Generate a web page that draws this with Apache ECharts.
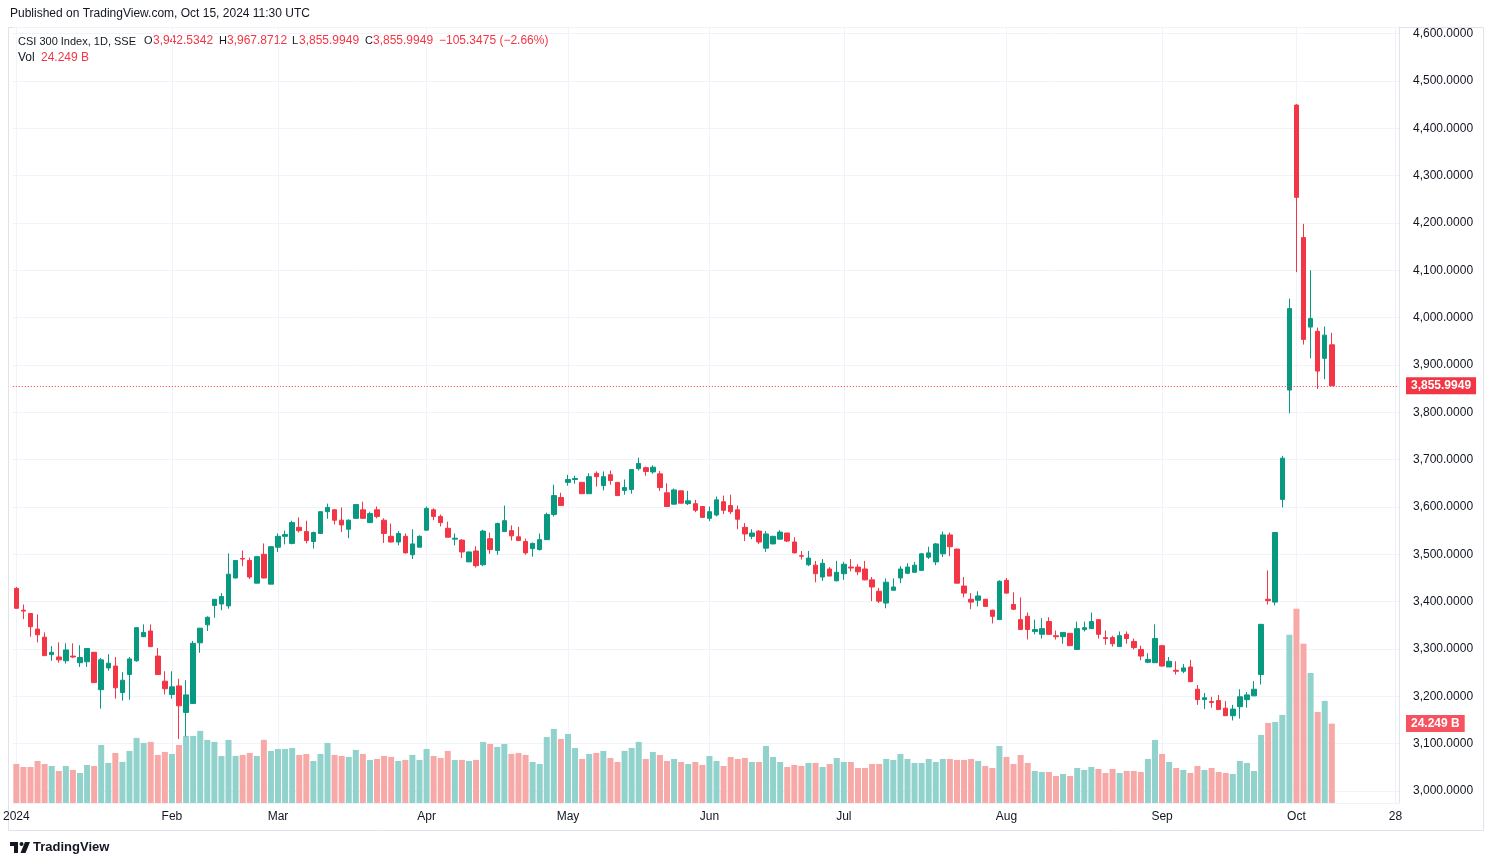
<!DOCTYPE html>
<html>
<head>
<meta charset="utf-8">
<title>CSI 300 Index, 1D, SSE</title>
<script src="https://cdn.jsdelivr.net/npm/echarts@6.0.0/dist/echarts.min.js"></script>
<style>
    html, body { margin: 0; padding: 0; background: #ffffff; }
    #main { width: 1493px; height: 866px; }
</style>
</head>
<body>
<div id="main"></div>
<script>
// 数据 — 每日 OHLC 与成交量(十亿)
const open = [
    3428, 3382, 3375, 3342, 3325, 3288, 3283, 3275, 3285, 3271,
    3273, 3293, 3214, 3260, 3264, 3208, 3246, 3275, 3326, 3338,
    3285, 3232, 3204, 3222, 3166, 3185, 3313, 3351, 3392, 3395,
    3391, 3450, 3491, 3487, 3439, 3500, 3437, 3515, 3538, 3523,
    3557, 3548, 3527, 3544, 3590, 3594, 3572, 3553, 3576, 3594,
    3567, 3594, 3572, 3538, 3526, 3538, 3499, 3515, 3551, 3594,
    3580, 3555, 3532, 3530, 3484, 3507, 3478, 3533, 3508, 3548,
    3550, 3537, 3527, 3512, 3510, 3531, 3584, 3620, 3652, 3658,
    3652, 3628, 3671, 3645, 3668, 3652, 3635, 3637, 3681, 3683,
    3674, 3670, 3630, 3606, 3634, 3607, 3607, 3601, 3576, 3583,
    3611, 3603, 3594, 3557, 3538, 3549, 3513, 3522, 3532, 3545,
    3526, 3497, 3478, 3477, 3452, 3469, 3444, 3459, 3473, 3473,
    3469, 3446, 3422, 3397, 3424, 3450, 3460, 3462, 3466, 3494,
    3484, 3501, 3541, 3511, 3433, 3405, 3403, 3405, 3382, 3362,
    3445, 3394, 3362, 3369, 3337, 3331, 3358, 3328, 3326, 3333,
    3299, 3341, 3343, 3362, 3324, 3324, 3305, 3331, 3316, 3299,
    3272, 3271, 3307, 3262, 3255, 3253, 3262, 3215, 3193, 3189,
    3191, 3175, 3159, 3178, 3193, 3201, 3246, 3405, 3399, 3616,
    3847, 4449, 4169, 3980, 3971, 3914, 3942.5342
];
const high = [
    3431, 3394, 3376, 3373, 3335, 3306, 3314, 3312, 3312, 3308,
    3301, 3294, 3281, 3289, 3283, 3251, 3283, 3346, 3352, 3352,
    3302, 3253, 3253, 3237, 3234, 3317, 3344, 3369, 3405, 3418,
    3502, 3488, 3508, 3493, 3496, 3523, 3517, 3544, 3550, 3571,
    3578, 3571, 3548, 3591, 3607, 3595, 3599, 3574, 3605, 3611,
    3590, 3601, 3576, 3565, 3549, 3544, 3553, 3540, 3601, 3597,
    3584, 3569, 3544, 3532, 3505, 3517, 3552, 3546, 3567, 3603,
    3561, 3558, 3533, 3525, 3544, 3588, 3647, 3630, 3668, 3666,
    3652, 3671, 3675, 3675, 3677, 3652, 3658, 3679, 3704, 3685,
    3688, 3676, 3650, 3639, 3635, 3634, 3615, 3601, 3601, 3622,
    3624, 3626, 3603, 3566, 3553, 3551, 3549, 3539, 3551, 3545,
    3536, 3507, 3507, 3486, 3490, 3473, 3486, 3484, 3490, 3479,
    3486, 3452, 3429, 3449, 3449, 3475, 3481, 3484, 3503, 3516,
    3524, 3548, 3546, 3512, 3452, 3418, 3422, 3406, 3383, 3445,
    3450, 3420, 3409, 3377, 3362, 3365, 3367, 3339, 3335, 3333,
    3358, 3358, 3377, 3363, 3339, 3328, 3337, 3337, 3322, 3307,
    3291, 3352, 3308, 3283, 3274, 3268, 3277, 3224, 3207, 3199,
    3203, 3190, 3182, 3215, 3209, 3232, 3353, 3466, 3547, 3708,
    4040, 4451, 4198, 4100, 3979, 3981, 3967.8712
];
const low = [
    3385, 3363, 3326, 3314, 3285, 3275, 3271, 3269, 3281, 3262,
    3262, 3228, 3174, 3254, 3195, 3191, 3193, 3273, 3325, 3304,
    3245, 3204, 3195, 3110, 3115, 3184, 3292, 3338, 3366, 3382,
    3385, 3449, 3475, 3448, 3439, 3449, 3437, 3505, 3521, 3521,
    3546, 3523, 3512, 3543, 3575, 3563, 3547, 3534, 3575, 3575,
    3567, 3576, 3524, 3525, 3519, 3502, 3490, 3515, 3550, 3572,
    3559, 3536, 3519, 3492, 3484, 3472, 3475, 3501, 3499, 3547,
    3529, 3528, 3499, 3495, 3508, 3530, 3580, 3602, 3645, 3649,
    3628, 3628, 3643, 3635, 3647, 3624, 3626, 3628, 3677, 3666,
    3670, 3634, 3601, 3605, 3607, 3604, 3589, 3578, 3570, 3580,
    3585, 3585, 3553, 3528, 3532, 3522, 3505, 3521, 3532, 3526,
    3502, 3489, 3475, 3441, 3444, 3454, 3443, 3446, 3464, 3456,
    3445, 3401, 3397, 3386, 3424, 3439, 3458, 3462, 3466, 3490,
    3477, 3494, 3496, 3439, 3409, 3384, 3390, 3389, 3354, 3362,
    3417, 3382, 3341, 3320, 3331, 3322, 3330, 3320, 3311, 3307,
    3299, 3337, 3343, 3322, 3309, 3305, 3305, 3311, 3299, 3276,
    3270, 3271, 3263, 3262, 3246, 3249, 3230, 3182, 3173, 3176,
    3172, 3159, 3149, 3153, 3176, 3201, 3225, 3394, 3392, 3599,
    3798, 4096, 3943, 3914, 3849, 3870, 3855.9949
];
const close = [
    3386, 3380, 3347, 3330, 3286, 3293, 3277, 3298, 3283, 3282,
    3301, 3229, 3277, 3270, 3218, 3234, 3279, 3345, 3335, 3305,
    3246, 3216, 3220, 3180, 3203, 3312, 3344, 3367, 3405, 3411,
    3458, 3487, 3490, 3452, 3495, 3450, 3516, 3538, 3542, 3567,
    3550, 3529, 3546, 3590, 3599, 3572, 3562, 3572, 3605, 3576,
    3586, 3580, 3544, 3526, 3544, 3503, 3522, 3538, 3597, 3580,
    3567, 3536, 3534, 3505, 3505, 3476, 3549, 3510, 3565, 3571,
    3539, 3529, 3503, 3523, 3531, 3584, 3624, 3603, 3658, 3660,
    3628, 3664, 3664, 3664, 3656, 3624, 3641, 3679, 3692, 3675,
    3684, 3641, 3601, 3636, 3608, 3613, 3593, 3578, 3590, 3615,
    3593, 3590, 3574, 3543, 3545, 3526, 3543, 3538, 3547, 3528,
    3503, 3496, 3492, 3459, 3481, 3454, 3462, 3479, 3471, 3463,
    3446, 3431, 3401, 3441, 3431, 3469, 3473, 3477, 3501, 3503,
    3522, 3541, 3516, 3439, 3418, 3399, 3412, 3390, 3369, 3443,
    3418, 3384, 3341, 3341, 3341, 3343, 3331, 3326, 3335, 3307,
    3343, 3345, 3358, 3331, 3322, 3311, 3328, 3322, 3303, 3285,
    3278, 3322, 3264, 3274, 3253, 3260, 3231, 3193, 3197, 3187,
    3172, 3159, 3173, 3199, 3203, 3215, 3352, 3402, 3546, 3703,
    4019, 4254, 3954, 3998, 3887, 3963, 3855.9949
];
const volume = [
    11.92, 11.00, 11.00, 12.84, 11.92, 11.31, 9.78, 11.31, 10.09, 9.17,
    11.62, 11.31, 17.73, 12.23, 15.29, 12.54, 15.90, 19.88, 18.35, 18.65,
    14.68, 15.60, 14.98, 17.73, 20.49, 20.49, 22.02, 19.27, 18.65, 14.37,
    19.27, 14.37, 14.68, 15.29, 14.37, 19.27, 15.90, 16.51, 16.51, 16.82,
    14.68, 14.98, 12.84, 14.98, 18.35, 14.68, 14.37, 14.07, 16.21, 14.98,
    13.15, 13.45, 14.37, 14.07, 12.84, 13.15, 14.68, 13.15, 16.51, 14.37,
    13.76, 15.90, 13.15, 13.15, 12.84, 13.15, 18.65, 18.04, 17.12, 18.04,
    14.98, 15.29, 14.68, 12.53, 11.92, 20.18, 22.62, 19.56, 21.09, 16.81,
    13.45, 14.98, 15.29, 15.90, 13.76, 12.53, 15.90, 16.81, 18.65, 13.45,
    15.59, 14.67, 12.84, 13.45, 12.53, 11.92, 12.53, 11.62, 14.37, 12.84,
    11.31, 14.06, 13.45, 13.76, 12.53, 12.53, 17.42, 14.06, 12.53, 11.00,
    11.62, 11.31, 12.23, 12.23, 11.00, 11.92, 13.76, 12.53, 12.53, 10.70,
    10.70, 11.92, 11.92, 13.45, 13.15, 14.98, 13.45, 12.23, 12.23, 13.45,
    12.53, 13.45, 13.45, 13.15, 13.15, 13.45, 12.84, 11.31, 10.70, 17.42,
    14.06, 11.92, 14.67, 12.23, 9.78, 9.48, 9.48, 8.25, 8.87, 8.25,
    10.70, 10.09, 11.00, 10.39, 9.17, 10.39, 9.17, 9.78, 9.78, 9.48,
    13.45, 19.26, 14.98, 12.53, 10.70, 10.09, 9.17, 11.31, 10.09, 10.70,
    9.48, 9.17, 8.87, 12.84, 12.23, 9.78, 20.79, 24.46, 24.76, 26.90,
    51.36, 59.31, 48.61, 39.74, 27.82, 31.18, 24.249
];
// 休市日(上交所 2024)
const holidays = [
    '2024-02-09', '2024-02-12', '2024-02-13', '2024-02-14', '2024-02-15', '2024-02-16',
    '2024-04-04', '2024-04-05', '2024-05-01', '2024-05-02', '2024-05-03', '2024-06-10',
    '2024-09-16', '2024-09-17', '2024-10-01', '2024-10-02', '2024-10-03', '2024-10-04', '2024-10-07'
];
// 时间轴刻度
const tickDates = ['2024-01-02', '2024-02-01', '2024-03-01', '2024-04-01', '2024-05-06', '2024-06-03',
    '2024-07-01', '2024-08-01', '2024-09-02', '2024-10-08', '2024-10-28'];
const tickText = ['2024', 'Feb', 'Mar', 'Apr', 'May', 'Jun', 'Jul', 'Aug', 'Sep', 'Oct', '28'];
// 图例里的涨跌
const changeText = '\u2212105.3475 (\u22122.66%)';

const UP = '#089981';
const DOWN = '#f23645';
const UP_VOL = '#92d2cc';
const DOWN_VOL = '#f7a9a7';
const FONT = 'Liberation Sans, Arial, sans-serif';

// 交易日 (含右侧空白的未来交易日)
function tradingDays(from, to) {
    let out = [];
    let d = new Date(from + 'T00:00:00Z');
    let end = new Date(to + 'T00:00:00Z');
    while (d <= end) {
        let s = d.toISOString().slice(0, 10);
        let wd = d.getUTCDay();
        if (wd !== 0 && wd !== 6 && holidays.indexOf(s) < 0) out.push(s);
        d.setUTCDate(d.getUTCDate() + 1);
    }
    return out;
}
const dates = tradingDays('2024-01-02', '2024-10-28');

let candles = open.map(function (o, i) {
    return [o, close[i], low[i], high[i]];
});
let volBars = volume.map(function (v, i) {
    return { value: v, itemStyle: { color: close[i] >= open[i] ? UP_VOL : DOWN_VOL } };
});

let fmt = new Intl.NumberFormat('en-US', { minimumFractionDigits: 4, maximumFractionDigits: 4 });
let n = close.length - 1;
let lastClose = close[n];
let lastVol = volume[n];

function isTick(index) {
    return tickDates.indexOf(dates[index]) >= 0;
}

// 图例行文字 (逐段定位)
function legendText(x, text, color, size) {
    return {
        type: 'text', left: x, top: 35, silent: true,
        style: { text: text, fill: color, font: (size || 12) + 'px ' + FONT }
    };
}

(function () {
    let myechart = echarts.init(document.getElementById('main'));
    let option = {
        animation: false,
        backgroundColor: '#ffffff',
        textStyle: { fontFamily: FONT },
        grid: {
            left: 9.5,
            right: 94,
            top: 27,
            bottom: 63
        },
        xAxis: {
            type: 'category',
            data: dates,
            boundaryGap: true,
            axisLine: { show: false },
            axisTick: { show: false, alignWithLabel: true },
            axisLabel: {
                interval: function (index) { return isTick(index); },
                formatter: function (value) { return tickText[tickDates.indexOf(value)]; },
                color: '#131722',
                fontSize: 12,
                margin: 8
            },
            splitLine: {
                show: true,
                alignWithLabel: true,
                interval: function (index) { return isTick(index); },
                lineStyle: { color: '#f0f3fa' }
            }
        },
        yAxis: [
            {
                type: 'value',
                position: 'right',
                min: 2974.65,
                max: 4613.9,
                minInterval: 100,
                maxInterval: 100,
                axisLine: { show: true, lineStyle: { color: '#e0e3eb' } },
                axisTick: { show: false },
                axisLabel: {
                    color: '#131722',
                    fontSize: 12,
                    margin: 14,
                    formatter: function (v) {
                        if (Math.abs(v - Math.round(v / 100) * 100) > 1e-6) return '';
                        return fmt.format(v);
                    }
                },
                splitLine: { lineStyle: { color: '#f0f3fa' } }
            },
            {
                type: 'value',
                min: 0,
                max: 237,
                show: false,
                splitLine: { show: false }
            }
        ],
        series: [
            {
                name: 'Vol',
                type: 'bar',
                yAxisIndex: 1,
                data: volBars,
                barWidth: 6,
                z: 1,
                markLine: {
                    silent: true,
                    symbol: ['none', 'none'],
                    lineStyle: { color: 'rgba(0,0,0,0)', width: 1 },
                    label: {
                        show: true,
                        position: 'end',
                        distance: 7,
                        formatter: lastVol.toFixed(3) + ' B',
                        color: '#ffffff',
                        backgroundColor: '#f7525f',
                        padding: [3, 5, 2, 5],
                        fontSize: 12,
                        fontWeight: 'bold'
                    },
                    data: [{ yAxis: lastVol }]
                }
            },
            {
                name: 'CSI 300 Index',
                type: 'candlestick',
                data: candles,
                barWidth: 5,
                z: 2,
                itemStyle: {
                    color: UP,
                    color0: DOWN,
                    borderColor: UP,
                    borderColor0: DOWN,
                    borderWidth: 1
                },
                markLine: {
                    silent: true,
                    symbol: ['none', 'none'],
                    lineStyle: { color: DOWN, type: [1, 2], width: 1 },
                    label: {
                        position: 'end',
                        distance: 7,
                        formatter: fmt.format(lastClose),
                        color: '#ffffff',
                        backgroundColor: DOWN,
                        padding: [3, 5, 2, 5],
                        fontSize: 12,
                        fontWeight: 'bold'
                    },
                    data: [{ yAxis: lastClose }]
                }
            }
        ],
        graphic: [
            {
                type: 'text', left: 10, top: 8,
                style: { text: 'Published on TradingView.com, Oct 15, 2024 11:30 UTC', fill: '#131722', font: '12px ' + FONT }
            },
            {
                type: 'rect', shape: { x: 8.5, y: 27.5, width: 1475, height: 803 },
                style: { fill: 'none', stroke: '#e0e3eb', lineWidth: 1 }, silent: true
            },
            {
                type: 'text', left: 18, top: 36, silent: true,
                style: { text: 'CSI 300 Index, 1D, SSE', fill: '#131722', font: '11px ' + FONT }
            },
            legendText(144, 'O', '#131722', 11),
            legendText(153, fmt.format(open[n]), DOWN),
            legendText(219, 'H', '#131722', 11),
            legendText(227, fmt.format(high[n]), DOWN),
            legendText(292, 'L', '#131722', 11),
            legendText(299, fmt.format(low[n]), DOWN),
            legendText(365, 'C', '#131722', 11),
            legendText(373, fmt.format(close[n]), DOWN),
            legendText(439, changeText, DOWN),
            {
                type: 'text', left: 18, top: 52, silent: true,
                style: { text: 'Vol', fill: '#131722', font: '12px ' + FONT }
            },
            {
                type: 'text', left: 41, top: 52, silent: true,
                style: { text: lastVol.toFixed(3) + ' B', fill: DOWN, font: '12px ' + FONT }
            },
            // TradingView 标志
            {
                type: 'group', left: 10, top: 842,
                children: [
                    { type: 'rect', shape: { x: 0, y: 0, width: 8, height: 4 }, style: { fill: '#131722' } },
                    { type: 'rect', shape: { x: 4, y: 0, width: 4, height: 11 }, style: { fill: '#131722' } },
                    { type: 'circle', shape: { cx: 11.5, cy: 2, r: 2 }, style: { fill: '#131722' } },
                    { type: 'polygon', shape: { points: [[15, 0], [20, 0], [15.5, 11], [10.5, 11]] }, style: { fill: '#131722' } }
                ]
            },
            {
                type: 'text', left: 33, top: 841,
                style: { text: 'TradingView', fill: '#131722', font: 'bold 13px ' + FONT }
            }
        ]
    };
    myechart.setOption(option);
    window.addEventListener('resize', function () {
        myechart.resize();
    });
})();
</script>
</body>
</html>
